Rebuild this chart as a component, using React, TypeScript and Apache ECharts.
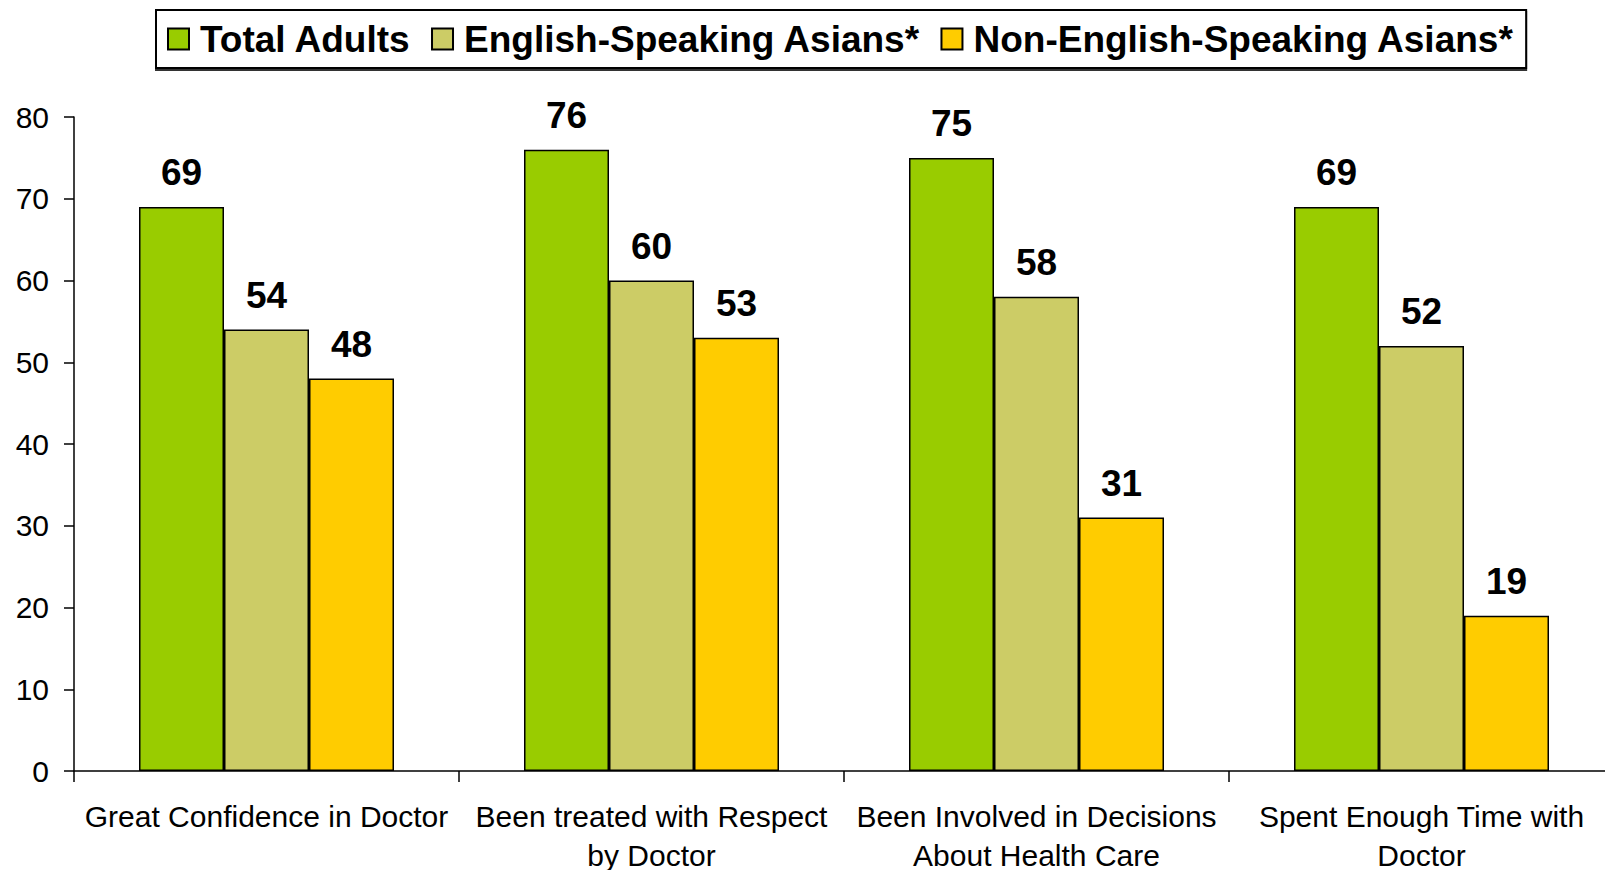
import React, { useEffect, useRef } from "react";
import * as echarts from "echarts";

const categories = [
  "Great Confidence in Doctor",
  "Been treated with Respect\nby Doctor",
  "Been Involved in Decisions\nAbout Health Care",
  "Spent Enough Time with\nDoctor",
];
const seriesNames = ["Total Adults", "English-Speaking Asians*", "Non-English-Speaking Asians*"];
const totalAdults = [69, 76, 75, 69];
const englishSpeaking = [54, 60, 58, 52];
const nonEnglishSpeaking = [48, 53, 31, 19];
const seriesColors = ["#99CC00", "#CCCC66", "#FFCC00"];
const yTicks = [0, 10, 20, 30, 40, 50, 60, 70, 80];

const FONT = '"Liberation Sans", Arial, sans-serif';

export default function App() {
  const ref = useRef<HTMLDivElement>(null);
  useEffect(() => {
    if (!ref.current) return;
    const chart = echarts.init(ref.current, undefined, { renderer: "svg" });
    const values = [totalAdults, englishSpeaking, nonEnglishSpeaking];
    chart.setOption({
      animation: false,
      backgroundColor: "#ffffff",
      textStyle: { fontFamily: FONT },
      legend: {
        left: 156,
        top: 10,
        padding: [9, 12, 9, 11],
        itemGap: 20,
        itemWidth: 21,
        itemHeight: 21,
        borderColor: "#000",
        borderWidth: 2,
        backgroundColor: "#fff",
        shadowColor: "rgba(0,0,0,0.8)",
        shadowOffsetX: 0,
        shadowOffsetY: 2,
        shadowBlur: 0,
        icon: "rect",
        textStyle: {
          fontFamily: FONT,
          fontSize: 37,
          fontWeight: "bold",
          color: "#000",
          lineHeight: 40,
          padding: [0, 0, 0, 6],
        },
        data: seriesNames,
      },
      grid: {
        left: 74,
        top: 117,
        width: 1540,
        height: 654,
        containLabel: false,
        outerBoundsMode: "none",
      },
      xAxis: {
        type: "category",
        data: categories,
        boundaryGap: true,
        axisLine: { lineStyle: { color: "#000", width: 1.5 } },
        axisTick: { show: true, length: 11, inside: false, alignWithLabel: false, lineStyle: { color: "#000", width: 1.5 } },
        axisLabel: {
          interval: 0,
          margin: 26,
          fontFamily: FONT,
          fontSize: 30,
          color: "#000",
          lineHeight: 39,
          verticalAlign: "top",
        },
      },
      yAxis: {
        type: "value",
        min: yTicks[0],
        max: yTicks[yTicks.length - 1],
        interval: 10,
        splitLine: { show: false },
        axisLine: { show: true, lineStyle: { color: "#000", width: 1.5 } },
        axisTick: { show: true, length: 10, lineStyle: { color: "#000", width: 1.5 } },
        axisLabel: {
          margin: 25,
          fontFamily: FONT,
          fontSize: 30,
          color: "#000",
        },
      },
      series: seriesNames.map((name, i) => ({
        name,
        type: "bar",
        data: values[i],
        barWidth: 85,
        barGap: "0%",
        itemStyle: { color: seriesColors[i], borderColor: "#000", borderWidth: 1.5 },
        label: {
          show: true,
          position: "top",
          distance: 16,
          fontFamily: FONT,
          fontSize: 37,
          fontWeight: "bold",
          color: "#000",
        },
      })),
    });
    return () => chart.dispose();
  }, []);
  return (
    <div
      ref={ref}
      style={{ position: "fixed", left: 0, top: 0, width: 1625, height: 870 }}
    />
  );
}
